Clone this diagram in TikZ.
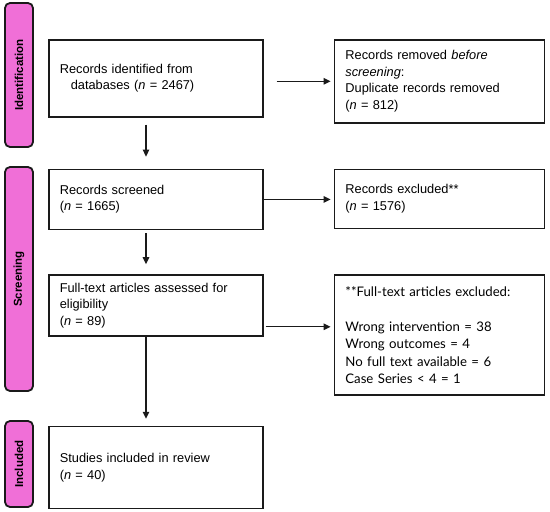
\documentclass[tikz,border=0pt]{standalone}
\usepackage{fontspec}
\setmainfont{Liberation Sans}
\newfontfamily\listfont{Lato}
\usetikzlibrary{arrows.meta,positioning,calc}
\definecolor{phasepink}{HTML}{F06FD7}
\definecolor{edge}{HTML}{1A1A1A}

\begin{document}
\begin{tikzpicture}[x=1pt,y=-1pt,node distance=70pt,>={Triangle[length=7pt,width=6.5pt]},
  box/.style={draw=edge,line width=1.6pt,text width=192pt,inner xsep=11pt,align=left,
    font=\fontsize{12.8}{16.5}\selectfont},
  sidebox/.style={box,text width=188pt},
  phase/.style={draw=edge,fill=phasepink,line width=1.8pt,rounded corners=5pt,rotate=90,
    minimum height=28pt,inner sep=0pt,font=\fontsize{11.5}{13}\selectfont\bfseries},
  flow/.style={->,line width=1.3pt,color=edge}]
  \useasboundingbox (0,0) rectangle (550,512);
  % phase bars
  \node[phase,minimum width=144pt] (pident) at (19,75) {Identification};
  \node[phase,minimum width=224pt] (pscreen) at (19,279) {Screening};
  \node[phase,minimum width=86pt] (pincl) at (19,464) {Included};
  % left column
  \node[box,minimum height=77pt,anchor=north west] (ident) at (48,39)
    {Records identified from\\\hspace*{11pt}databases (\textit{n} = 2467)};
  \node[box,minimum height=60pt,below=51pt of ident] (screened)
    {Records screened\\(\textit{n} = 1665)};
  \node[box,minimum height=61pt,below=44pt of screened] (fulltext)
    {Full-text articles assessed for\\eligibility\\(\textit{n} = 89)};
  \node[box,minimum height=82pt,below=89pt of fulltext] (included)
    {Studies included in review\\(\textit{n} = 40)};
  % right column
  \node[sidebox,minimum height=83pt,right=of ident.north east,anchor=north west] (removed)
    {Records removed \textit{before}\\\textit{screening}:\\Duplicate records removed\\(\textit{n} = 812)};
  \node[sidebox,minimum height=59pt,right=of screened.north east,anchor=north west] (excluded)
    {Records excluded**\\(\textit{n} = 1576)};
  \node[sidebox,minimum height=120pt,right=of fulltext.north east,anchor=north west,
    font=\listfont\fontsize{13.2}{17.5}\selectfont] (ftexcl)
    {**Full-text articles excluded:\\[17.5pt]Wrong intervention = 38\\Wrong outcomes = 4\\
     No full text available = 6\\Case Series < 4 = 1};
  % connectors
  \coordinate (spine) at (146,0);
  \coordinate (ftout) at ([yshift=10pt]fulltext.south east);
  \draw[flow,shorten <=13pt,shorten >=3pt] (ident.east |- removed.west) -- (removed.west);
  \draw[flow,shorten >=3pt] (screened.east) -- (screened.east -| excluded.west);
  \draw[flow,shorten <=2pt,shorten >=3pt] (ftout) -- (ftout -| ftexcl.west);
  \draw[flow,shorten <=7pt,shorten >=12pt] (ident.south -| spine) -- (screened.north -| spine);
  \draw[flow,shorten <=3pt,shorten >=10pt] (screened.south -| spine) -- (fulltext.north -| spine);
  \draw[flow,shorten >=7pt] (fulltext.south -| spine) -- (included.north -| spine);
\end{tikzpicture}
\end{document}
